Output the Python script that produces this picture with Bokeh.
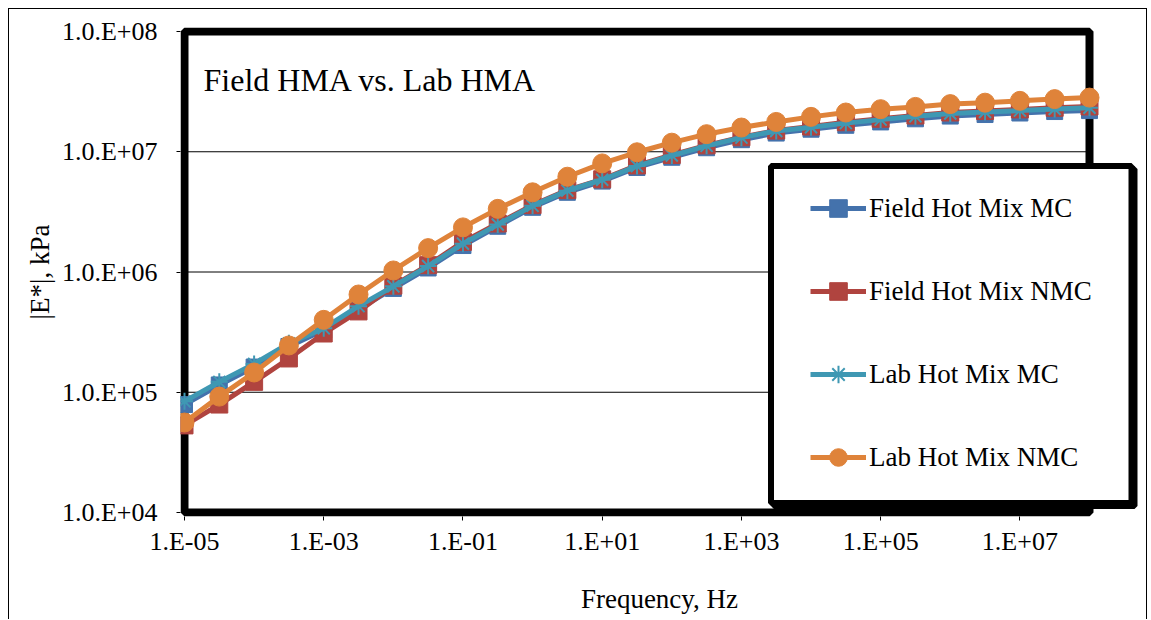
from bokeh.plotting import figure
from bokeh.models import FixedTicker, Legend, LegendItem, Label, BoxAnnotation
from bokeh.embed import file_html
from bokeh.resources import INLINE

# ---------------- data ----------------
freq_hz = [1.0e-5, 3.16e-5, 1.0e-4, 3.16e-4, 1.0e-3, 3.16e-3, 1.0e-2, 3.16e-2,
           1.0e-1, 3.16e-1, 1.0e0, 3.16e0, 1.0e1, 3.16e1, 1.0e2, 3.16e2,
           1.0e3, 3.16e3, 1.0e4, 3.16e4, 1.0e5, 3.16e5, 1.0e6, 3.16e6,
           1.0e7, 3.16e7, 1.0e8]

field_hot_mix_mc = [7.9e4, 1.15e5, 1.62e5, 2.40e5, 3.30e5, 4.90e5, 7.30e5, 1.08e6,
                    1.66e6, 2.40e6, 3.45e6, 4.60e6, 5.70e6, 7.40e6, 9.00e6, 1.08e7,
                    1.26e7, 1.43e7, 1.54e7, 1.66e7, 1.77e7, 1.88e7, 1.98e7, 2.04e7,
                    2.10e7, 2.16e7, 2.20e7]

field_hot_mix_nmc = [5.3e4, 7.9e4, 1.22e5, 1.91e5, 3.08e5, 4.70e5, 7.70e5, 1.14e6,
                     1.78e6, 2.53e6, 3.60e6, 4.80e6, 5.90e6, 7.70e6, 9.40e6, 1.13e7,
                     1.32e7, 1.50e7, 1.62e7, 1.76e7, 1.88e7, 2.00e7, 2.12e7, 2.18e7,
                     2.25e7, 2.32e7, 2.38e7]

lab_hot_mix_mc = [8.4e4, 1.22e5, 1.72e5, 2.55e5, 3.40e5, 5.20e5, 7.60e5, 1.12e6,
                  1.72e6, 2.48e6, 3.55e6, 4.75e6, 5.85e6, 7.60e6, 9.30e6, 1.12e7,
                  1.31e7, 1.49e7, 1.60e7, 1.73e7, 1.85e7, 1.97e7, 2.08e7, 2.14e7,
                  2.20e7, 2.27e7, 2.32e7]

lab_hot_mix_nmc = [5.6e4, 9.2e4, 1.46e5, 2.45e5, 4.00e5, 6.50e5, 1.03e6, 1.58e6,
                   2.35e6, 3.35e6, 4.60e6, 6.20e6, 8.00e6, 9.90e6, 1.19e7, 1.40e7,
                   1.59e7, 1.77e7, 1.95e7, 2.12e7, 2.26e7, 2.36e7, 2.49e7, 2.56e7,
                   2.65e7, 2.74e7, 2.82e7]

series_names = ["Field Hot Mix MC", "Field Hot Mix NMC", "Lab Hot Mix MC", "Lab Hot Mix NMC"]

x_tick_values = [1e-5, 1e-3, 1e-1, 1e1, 1e3, 1e5, 1e7]
x_tick_labels = ["1.E-05", "1.E-03", "1.E-01", "1.E+01", "1.E+03", "1.E+05", "1.E+07"]
y_tick_values = [1e4, 1e5, 1e6, 1e7, 1e8]
y_tick_labels = ["1.0.E+04", "1.0.E+05", "1.0.E+06", "1.0.E+07", "1.0.E+08"]

# ---------------- layout (pixels) ----------------
FONT = "Liberation Serif"
X_PX_PER_DEC = 905 / 13.0     # 1e-5 .. 1e8 over 905 px
Y_PX_PER_DEC = 481 / 4.0      # 1e4 .. 1e8 over 481 px
PAD_L, PAD_R, PAD_T, PAD_B = 4, 49, 4, 4   # frame slack around the plot area

x_start = x_tick_values[0] * 10 ** (-PAD_L / X_PX_PER_DEC)
x_end = freq_hz[-1] * 10 ** (PAD_R / X_PX_PER_DEC)
y_start = y_tick_values[0] * 10 ** (-PAD_B / Y_PX_PER_DEC)
y_end = y_tick_values[-1] * 10 ** (PAD_T / Y_PX_PER_DEC)

p = figure(width=1139, height=611,
           x_axis_type="log", y_axis_type="log",
           x_range=(x_start, x_end), y_range=(y_start, y_end),
           output_backend="svg", toolbar_location=None,
           min_border_left=171, min_border_right=10,
           min_border_top=18, min_border_bottom=104,
           background_fill_color="white", border_fill_color="white")
p.margin = (8, 0, 0, 8)
p.styles = {"border-top": "1px solid black",
            "border-left": "1px solid black",
            "border-right": "1px solid black"}
p.outline_line_color = None

# axes
p.xaxis.ticker = FixedTicker(ticks=x_tick_values)
p.xaxis.major_label_overrides = dict(zip(x_tick_values, x_tick_labels))
p.yaxis.ticker = FixedTicker(ticks=y_tick_values)
p.yaxis.major_label_overrides = dict(zip(y_tick_values, y_tick_labels))

for ax in (p.xaxis, p.yaxis):
    ax.axis_line_color = None
    ax.major_tick_line_color = "black"
    ax.major_tick_line_width = 1
    ax.major_tick_in = 0
    ax.major_tick_out = 4
    ax.minor_tick_line_color = None
    ax.major_label_text_font = FONT
    ax.major_label_text_font_size = "26px"
    ax.major_label_text_color = "black"
    ax.axis_label_text_font = FONT
    ax.axis_label_text_font_size = "27px"
    ax.axis_label_text_font_style = "normal"
    ax.axis_label_text_color = "black"

p.xaxis.major_label_standoff = 6
p.yaxis.major_label_standoff = 19
p.xaxis.axis_label = "Frequency, Hz"
p.yaxis.axis_label = "|E*|, kPa"
p.xaxis.axis_label_standoff = 25
p.yaxis.axis_label_standoff = 4

p.grid.visible = False

# horizontal gridlines limited to the plot area
p.segment(x0=[freq_hz[0]] * len(y_tick_values), x1=[freq_hz[-1]] * len(y_tick_values),
          y0=y_tick_values, y1=y_tick_values, line_color="black", line_width=1)

# heavy plot-area border
frame_box = BoxAnnotation(left=freq_hz[0], right=freq_hz[-1],
                          bottom=y_tick_values[0], top=y_tick_values[-1],
                          fill_color=None, fill_alpha=0,
                          line_color="black", line_alpha=1.0, line_width=8,
                          level="underlay")
p.add_layout(frame_box)

# ---------------- series ----------------
colors = ["#4472AC", "#B0443F", "#3F98B3", "#DF833A"]
values = [field_hot_mix_mc, field_hot_mix_nmc, lab_hot_mix_mc, lab_hot_mix_nmc]
markers = ["square", "square", "asterisk", "circle"]
sizes = [16, 17, 17, 19]

items = []
for name, vals, col, mk, sz in zip(series_names, values, colors, markers, sizes):
    lr = p.line(freq_hz, vals, line_color=col, line_width=5)
    if mk == "asterisk":
        sr = p.scatter(freq_hz, vals, marker=mk, size=sz, line_color=col, line_width=2)
    else:
        sr = p.scatter(freq_hz, vals, marker=mk, size=sz, fill_color=col,
                       line_color=col, line_width=1)
    items.append(LegendItem(label=name, renderers=[lr, sr]))

# legend frame (screen px relative to the frame's bottom-left), with a drop shadow
legend_shadow = BoxAnnotation(left=593.5, right=954, top=347.5, bottom=10.5,
                              left_units="screen", right_units="screen",
                              top_units="screen", bottom_units="screen",
                              fill_color="black", fill_alpha=1.0,
                              line_color="black", line_alpha=1.0, line_width=6)
legend_box = BoxAnnotation(left=590.5, right=951, top=350.5, bottom=13.5,
                           left_units="screen", right_units="screen",
                           top_units="screen", bottom_units="screen",
                           fill_color="white", fill_alpha=1.0,
                           line_color="black", line_alpha=1.0, line_width=6)
p.add_layout(legend_shadow)
p.add_layout(legend_box)

legend = Legend(items=items, location=(630, 37),
                border_line_color=None, border_line_width=0,
                background_fill_alpha=0.0,
                label_text_font=FONT, label_text_font_size="27px",
                label_text_color="black",
                glyph_width=56, glyph_height=44, label_height=44,
                label_standoff=3, spacing=39, padding=0, margin=0)
p.add_layout(legend)

title = Label(x=23, y=437, x_units="screen", y_units="screen",
              text="Field HMA vs. Lab HMA", text_font=FONT,
              text_font_size="32px", text_color="black",
              text_baseline="alphabetic", text_align="left")
p.add_layout(title)

open("out.html", "w").write(file_html(p, INLINE))
